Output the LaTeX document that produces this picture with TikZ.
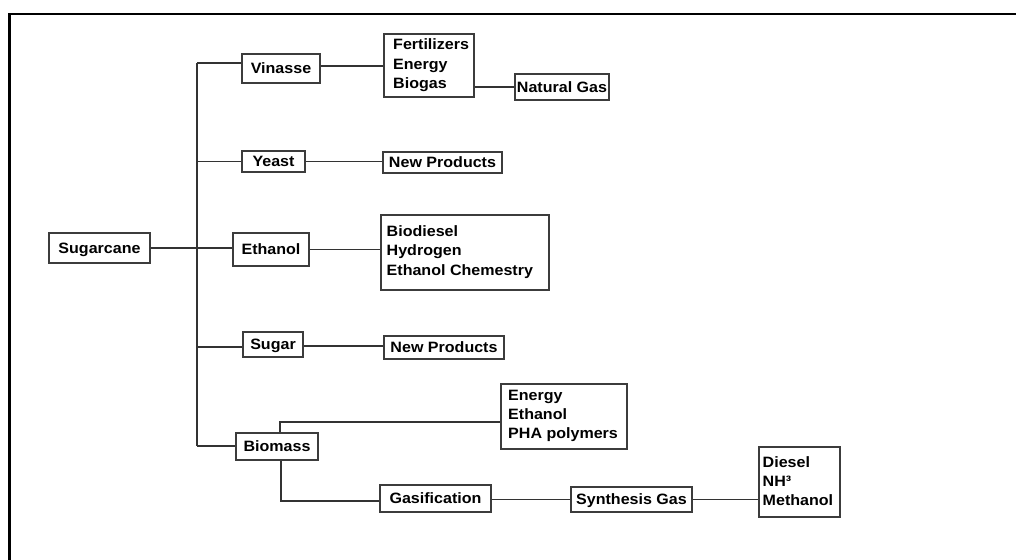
\documentclass[tikz,border=0pt]{standalone}
\usepackage{fontspec}
\setmainfont{Liberation Sans}[FakeStretch=1.07]
\newcommand\mystack[1]{\vtop{\baselineskip=19.3pt\lineskiplimit=-20pt\relax #1}}
\definecolor{boxc}{HTML}{3C3C3C}
\definecolor{linec}{HTML}{333333}
\begin{document}
\begin{tikzpicture}[x=1pt,y=-1pt,
  box/.style={draw=boxc, line width=1.3pt, inner sep=0pt, fill=white,
    font=\fontsize{15}{19.3}\selectfont\bfseries, text height=10.7pt, text depth=0pt},
  txt/.style={inner sep=0pt, anchor=base west, font=\fontsize{15}{19.3}\selectfont\bfseries},
  conn/.style={draw=linec, line width=1.2pt},
  frame/.style={draw=black, line width=2.6pt}]
\useasboundingbox (0,0) rectangle (1016,559);
\fill[white] (0,0) rectangle (1016,559);
\draw[frame] (9.7,560) -- (9.7,14) -- (1017,14);

% nodes
\node[box, minimum width=101, minimum height=30] (sugarcane) at (99.5,248) {Sugarcane};
\node[box, minimum width=78, minimum height=29] (vinasse) at (281,68.5) {Vinasse};
\node[box, minimum width=63, minimum height=21] (yeast) at (273.5,161.5) {Yeast};
\node[box, minimum width=76, minimum height=33] (ethanol) at (271,249.5) {Ethanol};
\node[box, minimum width=60, minimum height=25] (sugar) at (273,344.5) {Sugar};
\node[box, minimum width=82, minimum height=27] (biomass) at (277,446.5) {Biomass};

\node[box, minimum width=90, minimum height=63] (fert) at (429,65.5) {};
\node[txt] (fertt) at (393,50) {\mystack{\hbox{Fertilizers}\hbox{Energy}\hbox{Biogas}}};
\node[box, minimum width=94, minimum height=26] (natgas) at (562,87) {Natural Gas};
\node[box, minimum width=119, minimum height=21] (np1) at (442.5,162.5) {New Products};
\node[box, minimum width=168, minimum height=75] (bio) at (465,252.5) {};
\node[txt] (biot) at (386.5,236.5) {\mystack{\hbox{Biodiesel}\hbox{Hydrogen}\hbox{Ethanol Chemestry}}};
\node[box, minimum width=120, minimum height=23] (np2) at (444,347.5) {New Products};
\node[box, minimum width=126, minimum height=65] (energy) at (564,416.5) {};
\node[txt] (energyt) at (508,400) {\mystack{\hbox{Energy}\hbox{Ethanol}\hbox{PHA polymers}}};
\node[box, minimum width=111, minimum height=27] (gasif) at (435.5,498.5) {Gasification};
\node[box, minimum width=121, minimum height=25] (synth) at (631.5,499.5) {Synthesis Gas};
\node[box, minimum width=81, minimum height=70] (diesel) at (799.5,482) {};
\node[txt] (dieselt) at (762.5,467.3) {\mystack{\hbox{Diesel}\hbox{NH³}\hbox{Methanol}}};

% connectors
\coordinate (t1) at (197,63);
\coordinate (t4) at (197,347);
\coordinate (t5) at (197,446);
\draw[conn] (t1) -- (t5);
\draw[conn] (t1) -- (t1 -| vinasse.west);
\draw[conn] (yeast.west -| t1) -- (yeast.west);
\draw[conn] (sugarcane.east) -- (sugarcane.east -| ethanol.west);
\draw[conn] (t4) -- (t4 -| sugar.west);
\draw[conn] (t5) -- (t5 -| biomass.west);

\coordinate (vport) at ([yshift=2.5pt]vinasse.east);
\draw[conn] (vport) -- (vport -| fert.west);
\draw[conn] (natgas.west -| fert.east) -- (natgas.west);
\draw[conn] (yeast.east) -- (yeast.east -| np1.west);
\draw[conn] (ethanol.east) -- (ethanol.east -| bio.west);
\coordinate (sport) at ([yshift=-1.5pt]sugar.east);
\draw[conn] (sport) -- (sport -| np2.west);

\coordinate (bup) at ([xshift=3pt]biomass.north);
\coordinate (eport) at ([yshift=-5.5pt]energy.west);
\draw[conn] (bup) |- (eport);
\coordinate (bdown) at ([xshift=4pt]biomass.south);
\coordinate (gport) at ([yshift=-2.5pt]gasif.west);
\draw[conn] (bdown) |- (gport);
\draw[conn] (synth.west -| gasif.east) -- (synth.west);
\draw[conn] (synth.east) -- (synth.east -| diesel.west);
\end{tikzpicture}
\end{document}
